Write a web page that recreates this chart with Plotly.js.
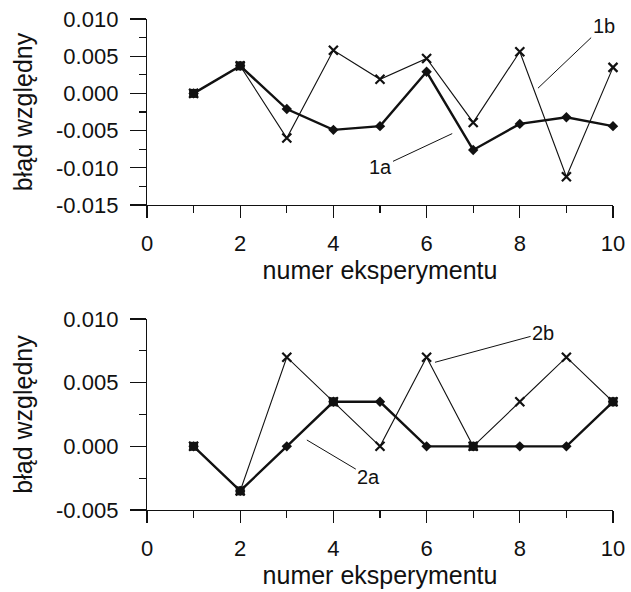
<!DOCTYPE html>
<html>
<head>
<meta charset="utf-8">
<script src="https://cdn.plot.ly/plotly-3.0.1.min.js"></script>
<style>html,body{margin:0;padding:0;background:#fff;}#chart{width:631px;height:592px;}</style>
</head>
<body>
<div id="chart"></div>
<script>
// ---- data ----
const experiments = [1, 2, 3, 4, 5, 6, 7, 8, 9, 10];
const err1a = [0.0000, 0.0037, -0.0021, -0.0049, -0.0044, 0.0029, -0.0076, -0.0041, -0.0032, -0.0044];
const err1b = [0.0000, 0.0037, -0.0060, 0.0058, 0.0019, 0.0047, -0.0039, 0.0056, -0.0112, 0.0035];
const err2a = [0.0000, -0.0035, 0.0000, 0.0035, 0.0035, 0.0000, 0.0000, 0.0000, 0.0000, 0.0035];
const err2b = [0.0000, -0.0035, 0.0070, 0.0035, 0.0000, 0.0070, 0.0000, 0.0035, 0.0070, 0.0035];
const xTickVals = [0, 2, 4, 6, 8, 10];
const xTickText = ["0", "2", "4", "6", "8", "10"];
const yTopVals = [0.010, 0.005, 0.000, -0.005, -0.010, -0.015];
const yTopText = ["0.010", "0.005", "0.000", "-0.005", "-0.010", "-0.015"];
const yBotVals = [0.010, 0.005, 0.000, -0.005];
const yBotText = ["0.010", "0.005", "0.000", "-0.005"];
const xTitle = "numer eksperymentu";
const yTitle = "błąd względny";
const labels = ["1a", "1b", "2a", "2b"];

// ---- styles ----
const FONT = "Liberation Sans, Arial, sans-serif";
const INK = "#111";

function shared(a, b) {
  const xs = [], ys = [];
  experiments.forEach((x, i) => { if (a[i] === b[i]) { xs.push(x); ys.push(a[i]); } });
  return {xs, ys};
}

function seriesTraces(a, b, xa, ya) {
  const s = shared(a, b);
  return [
    {x: experiments, y: b, xaxis: xa, yaxis: ya, mode: 'lines+markers', cliponaxis: false,
     line: {color: INK, width: 1.1},
     marker: {symbol: 'x-thin', size: 9, line: {color: INK, width: 2.2}}},
    {x: experiments, y: a, xaxis: xa, yaxis: ya, mode: 'lines+markers', cliponaxis: false,
     line: {color: INK, width: 2.4},
     marker: {symbol: 'diamond', size: 8, color: INK}},
    {x: s.xs, y: s.ys, xaxis: xa, yaxis: ya, mode: 'markers', cliponaxis: false,
     marker: {symbol: 'square', size: 9, color: INK}}
  ];
}

const data = [].concat(
  seriesTraces(err1a, err1b, 'x', 'y'),
  seriesTraces(err2a, err2b, 'x2', 'y2')
);

const xBase = {
  range: [0, 10], showline: true, linecolor: INK, linewidth: 1.2,
  ticks: 'outside', ticklen: 12, tickwidth: 1.2, tickcolor: INK,
  tickvals: xTickVals, ticktext: xTickText, ticklabelstandoff: 6,
  minor: {dtick: 1, tick0: 0, ticks: 'outside', ticklen: 7, tickwidth: 1.2, tickcolor: INK, showgrid: false},
  showgrid: false, zeroline: false, automargin: false,
  tickfont: {family: FONT, size: 22, color: INK},
  title: {text: xTitle, font: {family: FONT, size: 25, color: INK}, standoff: 4}
};
const yBase = {
  showline: true, linecolor: INK, linewidth: 1.2,
  ticks: 'outside', ticklen: 16, tickwidth: 1.2, tickcolor: INK, ticklabelstandoff: 7,
  minor: {dtick: 0.0025, tick0: 0, ticks: 'outside', ticklen: 7, tickwidth: 1.2, tickcolor: INK, showgrid: false},
  showgrid: false, zeroline: false, automargin: false,
  tickfont: {family: FONT, size: 22, color: INK},
  title: {text: yTitle, font: {family: FONT, size: 25, color: INK}, standoff: 16}
};

const ann = (text, x, y, ax, ay, xr, yr) => ({
  text, x, y, ax, ay, xref: xr, yref: yr, axref: xr, ayref: yr,
  showarrow: true, arrowhead: 0, arrowwidth: 1, arrowcolor: INK, standoff: 0,
  font: {family: FONT, size: 20, color: INK}
});

const layout = {
  width: 631, height: 592,
  margin: {l: 0, r: 0, t: 0, b: 0},
  paper_bgcolor: '#fff', plot_bgcolor: '#fff',
  showlegend: false,
  xaxis: Object.assign({}, xBase, {domain: [147/631, 613/631], anchor: 'y'}),
  yaxis: Object.assign({}, yBase, {domain: [1 - 205/592, 1 - 19/592], anchor: 'x',
    range: [-0.015, 0.010], tickvals: yTopVals, ticktext: yTopText}),
  xaxis2: Object.assign({}, xBase, {domain: [147/631, 613/631], anchor: 'y2'}),
  yaxis2: Object.assign({}, yBase, {domain: [1 - 510/592, 1 - 319/592], anchor: 'x2',
    range: [-0.005, 0.010], tickvals: yBotVals, ticktext: yBotText}),
  annotations: [
    ann(labels[0], 6.55, -0.0054, 5.0, -0.00995, 'x', 'y'),
    ann(labels[1], 8.39, 0.0007, 9.8, 0.0091, 'x', 'y'),
    ann(labels[2], 3.43, 0.0005, 4.76, -0.0024, 'x2', 'y2'),
    ann(labels[3], 6.18, 0.0066, 8.5, 0.0089, 'x2', 'y2')
  ]
};

Plotly.newPlot('chart', data, layout, {staticPlot: true, displayModeBar: false});
</script>
</body>
</html>
